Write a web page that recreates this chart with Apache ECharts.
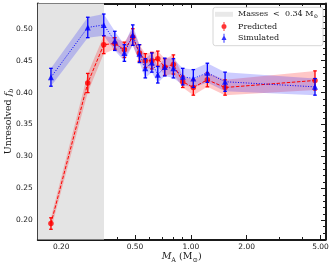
<!DOCTYPE html>
<html><head><meta charset="utf-8">
<script src="https://cdn.jsdelivr.net/npm/echarts@6/dist/echarts.min.js"></script>
<style>html,body{margin:0;padding:0;background:#fff}#c{width:333px;height:266px}</style>
</head><body><div id="c"></div>
<script>
// ---- data ----
const masses = [0.176, 0.278, 0.339, 0.389, 0.438, 0.486, 0.528, 0.568, 0.616, 0.663, 0.723, 0.805, 0.904, 1.031, 1.227, 1.529, 4.67];
const predicted = [0.195, 0.415, 0.475, 0.477, 0.467, 0.487, 0.462, 0.450, 0.450, 0.453, 0.440, 0.444, 0.417, 0.408, 0.420, 0.408, 0.419];
const predictedErr = [0.009, 0.015, 0.014, 0.009, 0.012, 0.013, 0.013, 0.011, 0.013, 0.012, 0.013, 0.015, 0.009, 0.012, 0.011, 0.012, 0.015];
const simulated = [0.424, 0.502, 0.506, 0.481, 0.462, 0.490, 0.461, 0.438, 0.447, 0.428, 0.440, 0.438, 0.425, 0.422, 0.431, 0.417, 0.409];
const simulatedErr = [0.014, 0.016, 0.017, 0.015, 0.013, 0.016, 0.014, 0.015, 0.015, 0.013, 0.014, 0.015, 0.013, 0.014, 0.015, 0.015, 0.013];
const xTicks = [0.2, 0.5, 1, 2, 5];
const xMinorTicks = [0.3, 0.4, 0.6, 0.7, 0.8, 0.9, 3, 4];
const yTicks = [0.20, 0.25, 0.30, 0.35, 0.40, 0.45, 0.50];
const yMinorTicks = [0.18, 0.19, 0.21, 0.22, 0.23, 0.24, 0.26, 0.27, 0.28, 0.29, 0.31, 0.32, 0.33, 0.34, 0.36, 0.37, 0.38, 0.39, 0.41, 0.42, 0.43, 0.44, 0.46, 0.47, 0.48, 0.49, 0.51, 0.52, 0.53];
const shadeLimit = 0.34;
const X_MIN = 0.1495, X_MAX = 5.32, Y_MIN = 0.170, Y_MAX = 0.5395;

const RED = '#ff0000', BLUE = '#0000ff', INK = '#1a1a1a';
const SERIF = 'DejaVu Serif', SANS = 'DejaVu Sans';

function xAx(pos, vals, len, labels, line, extra) {
  return Object.assign({
    type: 'log', logBase: 10, min: X_MIN, max: X_MAX, position: pos, nameMoveOverlap: false,
    axisLine: { show: line, onZero: false, lineStyle: { color: INK, width: 2 } },
    axisTick: { show: true, inside: true, length: len, customValues: vals, lineStyle: { color: INK, width: 1 } },
    axisLabel: { show: labels, customValues: vals, margin: 4, fontFamily: SANS, fontSize: 7.5, color: INK,
      formatter: v => Number(v).toFixed(2) },
    splitLine: { show: false }, minorTick: { show: false }, minorSplitLine: { show: false }
  }, extra || {});
}
function yAx(pos, vals, len, labels, line, extra) {
  return Object.assign({
    type: 'value', min: Y_MIN, max: Y_MAX, position: pos, nameMoveOverlap: false,
    axisLine: { show: line, onZero: false, lineStyle: { color: INK, width: 2 } },
    axisTick: { show: true, inside: true, length: len, customValues: vals, lineStyle: { color: INK, width: 1 } },
    axisLabel: { show: labels, customValues: vals, margin: 5, fontFamily: SANS, fontSize: 7.5, color: INK,
      formatter: v => Number(v).toFixed(2) },
    splitLine: { show: false }
  }, extra || {});
}

function bandSeries(vals, errs, color) {
  return {
    type: 'custom', name: '_band', silent: true, z: 2, xAxisIndex: 0, yAxisIndex: 0,
    data: [[1, 0.3]], encode: { x: 0, y: 1 },
    renderItem: (params, api) => {
      const pts = [];
      for (let i = 0; i < masses.length; i++) pts.push(api.coord([masses[i], vals[i] + errs[i]]));
      for (let i = masses.length - 1; i >= 0; i--) pts.push(api.coord([masses[i], vals[i] - errs[i]]));
      return { type: 'polygon', shape: { points: pts }, style: { fill: color } };
    }
  };
}
function errSeries(vals, errs, color, z) {
  return {
    type: 'custom', name: '_err', silent: true, z: z, xAxisIndex: 0, yAxisIndex: 0,
    data: masses.map((m, i) => [m, vals[i] - errs[i], vals[i] + errs[i]]),
    encode: { x: 0, y: [1, 2] },
    renderItem: (params, api) => {
      const lo = api.coord([api.value(0), api.value(1)]);
      const hi = api.coord([api.value(0), api.value(2)]);
      const c = 1.8, st = { stroke: color, lineWidth: 1.3 };
      return { type: 'group', children: [
        { type: 'line', shape: { x1: lo[0], y1: lo[1], x2: hi[0], y2: hi[1] }, style: st },
        { type: 'line', shape: { x1: lo[0] - c, y1: lo[1], x2: lo[0] + c, y2: lo[1] }, style: st },
        { type: 'line', shape: { x1: hi[0] - c, y1: hi[1], x2: hi[0] + c, y2: hi[1] }, style: st }
      ]};
    }
  };
}

const chart = echarts.init(document.getElementById('c'), null, { renderer: 'canvas' });
chart.setOption({
  animation: false,
  backgroundColor: '#fff',
  grid: { left: 37.8, right: 7.5, top: 3.5, bottom: 26.5, containLabel: false, outerBoundsMode: 'none' },
  xAxis: [
    xAx('bottom', xTicks, 4.5, true, true, {
      name: '{i|M}{s|A}{n| (M}{s|⊙}{n|)}', nameLocation: 'middle', nameGap: 11,
      nameTextStyle: { color: INK, rich: {
        i: { fontFamily: SERIF, fontSize: 9.5, fontStyle: 'italic', color: INK, lineHeight: 13 },
        n: { fontFamily: SERIF, fontSize: 9.5, color: INK, lineHeight: 13 },
        s: { fontFamily: SERIF, fontSize: 6.5, color: INK, verticalAlign: 'bottom', lineHeight: 13 } } }
    }),
    xAx('bottom', xMinorTicks, 2.5, false, false),
    xAx('top', xTicks, 4.5, false, true),
    xAx('top', xMinorTicks, 2.5, false, false)
  ],
  yAxis: [
    yAx('left', yTicks, 4.5, true, true, {
      name: '{n|Unresolved }{i|f}{s|b}', nameLocation: 'middle', nameGap: 23, nameRotate: 90,
      nameTextStyle: { color: INK, rich: {
        i: { fontFamily: SERIF, fontSize: 9.5, fontStyle: 'italic', color: INK, lineHeight: 13 },
        n: { fontFamily: SERIF, fontSize: 9.5, color: INK, lineHeight: 13 },
        s: { fontFamily: SERIF, fontSize: 6.5, fontStyle: 'italic', color: INK, verticalAlign: 'bottom', lineHeight: 13 } } }
    }),
    yAx('left', yMinorTicks, 2.5, false, false),
    yAx('right', yTicks, 4.5, false, true),
    yAx('right', yMinorTicks, 2.5, false, false)
  ],
  legend: {
    orient: 'vertical', left: 213, top: 7.3, itemWidth: 18, itemHeight: 9, itemGap: 2.7,
    padding: [3, 5, 3, 2], backgroundColor: 'rgba(255,255,255,0.85)', borderColor: '#cccccc',
    borderWidth: 0.8, borderRadius: 2.5, selectedMode: false,
    textStyle: { fontFamily: SERIF, fontSize: 8, color: INK, rich: {
      t: { fontFamily: SERIF, fontSize: 8, color: INK, lineHeight: 10 },
      s: { fontFamily: SERIF, fontSize: 5.5, color: INK, verticalAlign: 'bottom', lineHeight: 10 } } },
    formatter: name => name === 'shade' ? '{t|Masses  <  ' + shadeLimit.toFixed(2) + ' M}{s|⊙}' : '{t|' + name + '}',
    data: [
      { name: 'shade', icon: 'path://M0,0 L18,0 L18,5 L0,5 Z', itemStyle: { color: '#e4e4e4' } },
      { name: 'Predicted', icon: 'path://M2,0 L3,0 L3,9 L2,9 Z M2.5,2 A2.5,2.5 0 1 1 2.5,7 A2.5,2.5 0 1 1 2.5,2 Z', itemStyle: { color: RED } },
      { name: 'Simulated', icon: 'path://M2.5,1.3 L5,6.3 L0,6.3 Z M2,0 L3,0 L3,9 L2,9 Z', itemStyle: { color: BLUE } }
    ]
  },
  series: [
    { type: 'scatter', name: 'shade', data: [], itemStyle: { color: '#e4e4e4' }, z: 0,
      markArea: { silent: true, itemStyle: { color: '#e4e4e4' },
        data: [[{ xAxis: X_MIN }, { xAxis: shadeLimit }]] } },
    bandSeries(predicted, predictedErr, 'rgba(255,0,0,0.22)'),
    bandSeries(simulated, simulatedErr, 'rgba(0,0,255,0.2)'),
    { type: 'line', name: '_pl', data: masses.map((m, i) => [m, predicted[i]]), symbol: 'none', z: 3,
      lineStyle: { color: RED, width: 1, type: [3.5, 1.6] }, silent: true },
    { type: 'line', name: '_sl', data: masses.map((m, i) => [m, simulated[i]]), symbol: 'none', z: 3,
      lineStyle: { color: BLUE, width: 1, type: [1, 1.6] }, silent: true },
    errSeries(predicted, predictedErr, RED, 4),
    { type: 'scatter', name: 'Predicted', data: masses.map((m, i) => [m, predicted[i]]), symbol: 'circle',
      symbolSize: 5.5, itemStyle: { color: RED }, z: 5 },
    errSeries(simulated, simulatedErr, BLUE, 6),
    { type: 'scatter', name: 'Simulated', data: masses.map((m, i) => [m, simulated[i]]), symbol: 'triangle',
      symbolSize: 6, itemStyle: { color: BLUE }, z: 7 }
  ]
});
</script></body></html>
